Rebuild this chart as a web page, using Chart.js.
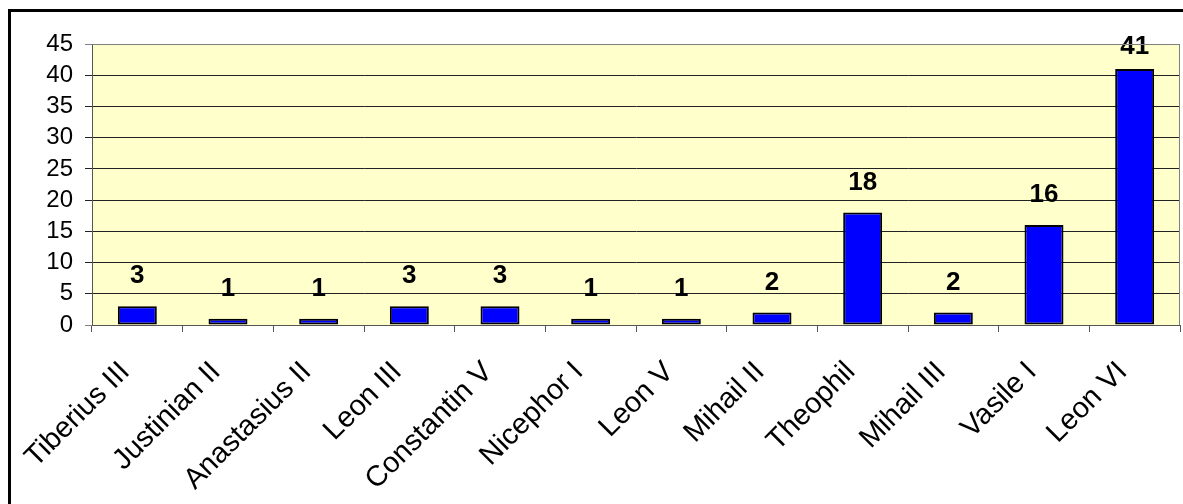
<!DOCTYPE html>
<html lang="en">
  <head>
    <meta charset="UTF-8" />
    <title>Emperors</title>
    <script src="https://cdn.jsdelivr.net/npm/chart.js@4.4.1/dist/chart.umd.min.js"></script>
    <style>
      body { margin: 0; background: #fff; }
    </style>
  </head>
  <body>
    <canvas id="myChart" width="1183" height="504"></canvas>
    <script>
      const emperors = ["Tiberius III", "Justinian II", "Anastasius II", "Leon III", "Constantin V", "Nicephor I",
        "Leon V", "Mihail II", "Theophil", "Mihail III", "Vasile I", "Leon VI"]
      const counts = [3, 1, 1, 3, 3, 1, 1, 2, 18, 2, 16, 41]
      const yTicks = [0, 5, 10, 15, 20, 25, 30, 35, 40, 45]

      const font = "'Liberation Sans', Arial, sans-serif"

      // yellow plot background, grey plot frame, black outer frame
      const frame = {
        id: "frame",
        beforeDraw(chart) {
          const { ctx, chartArea: a } = chart
          ctx.save()
          ctx.fillStyle = "#FFFFCC"
          ctx.fillRect(a.left, a.top, a.right - a.left, a.bottom - a.top)
          ctx.lineWidth = 3
          ctx.strokeStyle = "#000"
          ctx.strokeRect(9.5, 10.5, 1300, 700)
          ctx.restore()
        },
        afterDraw(chart) {
          const { ctx, chartArea: a } = chart
          ctx.save()
          ctx.lineWidth = 1
          ctx.strokeStyle = "#808080"
          ctx.beginPath()
          ctx.moveTo(a.left, a.top + 0.5)
          ctx.lineTo(a.right - 0.5, a.top + 0.5)
          ctx.lineTo(a.right - 0.5, a.bottom)
          ctx.stroke()
          ctx.restore()
        }
      }

      const valueLabels = {
        id: "valueLabels",
        afterDatasetsDraw(chart) {
          const { ctx } = chart
          ctx.save()
          ctx.font = "bold 26px " + font
          ctx.fillStyle = "#000"
          ctx.textAlign = "center"
          ctx.textBaseline = "alphabetic"
          chart.getDatasetMeta(0).data.forEach((bar, i) => {
            ctx.fillText(counts[i], bar.x, Math.max(bar.y - 23, 54))
          })
          ctx.restore()
        }
      }

      const ctx = document.getElementById("myChart").getContext("2d")
      new Chart(ctx, {
        type: "bar",
        data: {
          labels: emperors,
          datasets: [
            {
              data: counts,
              backgroundColor: "#0000FF",
              borderColor: "#000",
              borderWidth: 2,
              borderSkipped: false,
              categoryPercentage: 1,
              barPercentage: 0.43,
            },
          ],
        },
        options: {
          responsive: false,
          animation: false,
          layout: { padding: { top: 44, right: 3, left: 0, bottom: 0 } },
          plugins: { legend: { display: false }, tooltip: { enabled: false } },
          scales: {
            x: {
              afterFit: (s) => {
                s.height = 179
                s.paddingLeft = 0
                s.paddingRight = 0
              },
              grid: { offset: true, drawOnChartArea: false, color: "#555", tickLength: 7 },
              border: { color: "#555" },
              ticks: {
                color: "#000",
                font: { family: font, size: 29 },
                maxRotation: 45,
                minRotation: 45,
                autoSkip: false,
                labelOffset: -12,
                padding: 23,
              },
            },
            y: {
              min: 0,
              max: 45,
              afterFit: (s) => {
                s.width = 92
                s.paddingTop = 0
                s.paddingBottom = 0
              },
              afterBuildTicks: (s) => { s.ticks = yTicks.map((v) => ({ value: v })) },
              grid: {
                color: (c) => (c.tick.value === 0 || c.tick.value === 45 ? "#808080" : "#222"),
                tickLength: 7,
              },
              border: { color: "#555" },
              ticks: {
                color: "#000",
                font: { family: font, size: 24 },
                autoSkip: false,
                padding: 12,
              },
            },
          },
        },
        plugins: [frame, valueLabels],
      })
    </script>
  </body>
</html>
